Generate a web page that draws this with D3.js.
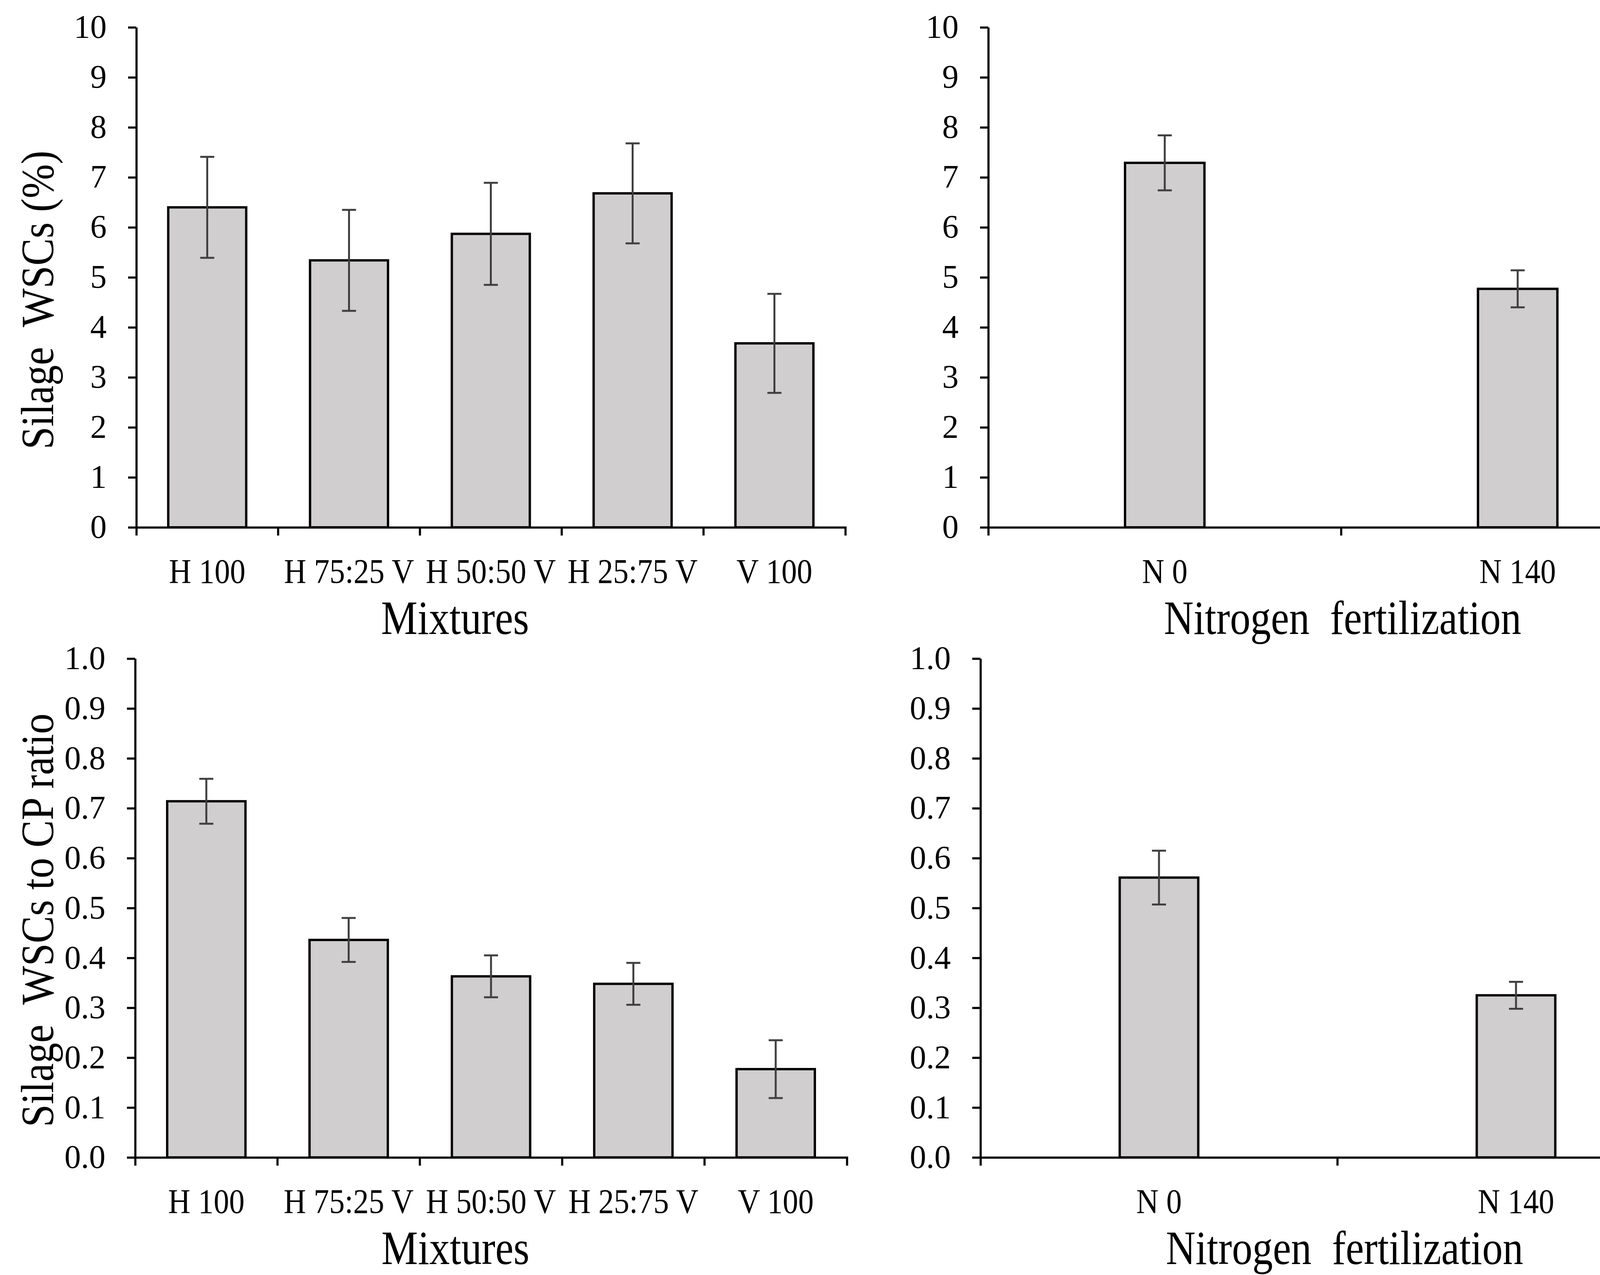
<!DOCTYPE html>
<html>
<head>
<meta charset="utf-8">
<script src="https://cdn.jsdelivr.net/npm/d3@7"></script>
<style>
  html, body { margin: 0; padding: 0; background: #fff; }
  svg { display: block; }
</style>
</head>
<body>
<svg id="chart" width="4377" height="3264"></svg>
<script>
const mixCats = ["H 100", "H 75:25 V", "H 50:50 V", "H 25:75 V", "V 100"];
const nitroCats = ["N 0", "N 140"];

const wscMix = [6.40, 5.34, 5.87, 6.68, 3.68];
const wscMixErr = [1.01, 1.01, 1.02, 1.00, 0.99];
const wscNitro = [7.29, 4.77];
const wscNitroErr = [0.55, 0.37];

const ratioMix = [0.714, 0.436, 0.363, 0.348, 0.177];
const ratioMixErr = [0.045, 0.044, 0.042, 0.042, 0.058];
const ratioNitro = [0.561, 0.325];
const ratioNitroErr = [0.054, 0.027];

const wscTicks = [0, 1, 2, 3, 4, 5, 6, 7, 8, 9, 10];
const ratioTicks = [0, 0.1, 0.2, 0.3, 0.4, 0.5, 0.6, 0.7, 0.8, 0.9, 1.0];

const svg = d3.select("#chart");
const font = "'Liberation Serif', 'Times New Roman', serif";

function panel(p) {
    const g = svg.append("g");
    const x = d3.scaleBand().domain(p.cats).range([p.x0, p.x1])
        .paddingInner(p.pad).paddingOuter(p.pad / 2);
    const y = d3.scaleLinear().domain([0, p.max]).range([p.yBot, p.yTop]);
    const data = p.cats.map((c, i) => ({ cat: c, v: p.vals[i], e: p.errs[i] }));

    // bars
    g.selectAll("rect.bar").data(data).enter().append("rect")
        .attr("class", "bar")
        .attr("x", d => x(d.cat))
        .attr("y", d => y(d.v))
        .attr("width", x.bandwidth())
        .attr("height", d => y(0) - y(d.v))
        .attr("fill", "#d0cece")
        .attr("stroke", "#000")
        .attr("stroke-width", 6);

    // error bars
    const cx = d => x(d.cat) + x.bandwidth() / 2;
    const eb = g.selectAll("g.err").data(data).enter().append("g")
        .attr("stroke", "#404040").attr("stroke-width", 5);
    eb.append("line").attr("x1", cx).attr("x2", cx)
        .attr("y1", d => y(d.v + d.e)).attr("y2", d => y(d.v - d.e));
    eb.append("line").attr("x1", d => cx(d) - 18).attr("x2", d => cx(d) + 18)
        .attr("y1", d => y(d.v + d.e)).attr("y2", d => y(d.v + d.e));
    eb.append("line").attr("x1", d => cx(d) - 18).attr("x2", d => cx(d) + 18)
        .attr("y1", d => y(d.v - d.e)).attr("y2", d => y(d.v - d.e));

    // y axis
    const ya = g.append("g").attr("transform", `translate(${p.x0},0)`)
        .call(d3.axisLeft(y).tickValues(p.ticks).tickFormat(p.fmt)
            .tickSize(21).tickSizeOuter(0).tickPadding(55));
    ya.selectAll("path, line").attr("stroke", "#000").attr("stroke-width", 5.5);
    ya.selectAll("text").attr("font-family", font).attr("font-size", 84).attr("fill", "#000");

    // x axis
    const xa = g.append("g").attr("transform", `translate(0,${p.yBot})`)
        .call(d3.axisBottom(x).tickSize(0).tickSizeOuter(21).tickPadding(80));
    xa.select(".domain").attr("stroke", "#000").attr("stroke-width", 5.5);
    xa.selectAll("text").attr("font-family", font).attr("font-size", 88)
        .attr("fill", "#000").attr("transform", "scale(0.9,1)");
    const bounds = p.cats.slice(1).map(c => x(c) - x.step() * x.paddingInner() / 2);
    xa.selectAll("line.bound").data(bounds).enter().append("line")
        .attr("class", "bound")
        .attr("x1", d => d).attr("x2", d => d)
        .attr("y1", 0).attr("y2", 21)
        .attr("stroke", "#000").attr("stroke-width", 5.5);

    // axis title
    g.append("text")
        .attr("transform", `translate(${p.titleX},${p.yBot + 273}) scale(0.86,1)`)
        .attr("text-anchor", "middle")
        .attr("font-family", font).attr("font-size", 122)
        .text(p.title);

    if (p.ylabel) {
        g.append("text")
            .attr("transform", `translate(136,${p.ylabelY}) rotate(-90) scale(0.89,1)`)
            .attr("text-anchor", "middle")
            .attr("font-family", font).attr("font-size", 118)
            .text(p.ylabel);
    }
}

const fmtInt = d3.format("d");
const fmt1 = d3.format(".1f");

panel({ cats: mixCats, vals: wscMix, errs: wscMixErr, ticks: wscTicks, fmt: fmtInt, max: 10,
    x0: 349, x1: 2164, yTop: 70, yBot: 1350, pad: 0.45,
    title: "Mixtures", titleX: 1165, ylabel: "Silage\u00a0 WSCs (%)", ylabelY: 768 });

panel({ cats: nitroCats, vals: wscNitro, errs: wscNitroErr, ticks: wscTicks, fmt: fmtInt, max: 10,
    x0: 2530, x1: 4337, yTop: 70, yBot: 1350, pad: 0.775,
    title: "Nitrogen\u00a0 fertilization", titleX: 3437 });

panel({ cats: mixCats, vals: ratioMix, errs: ratioMixErr, ticks: ratioTicks, fmt: fmt1, max: 1,
    x0: 346, x1: 2168, yTop: 1686, yBot: 2963, pad: 0.45,
    title: "Mixtures", titleX: 1166, ylabel: "Silage\u00a0 WSCs to CP ratio", ylabelY: 2356 });

panel({ cats: nitroCats, vals: ratioNitro, errs: ratioNitroErr, ticks: ratioTicks, fmt: fmt1, max: 1,
    x0: 2510, x1: 4338, yTop: 1686, yBot: 2963, pad: 0.78,
    title: "Nitrogen\u00a0 fertilization", titleX: 3442 });
</script>
</body>
</html>
